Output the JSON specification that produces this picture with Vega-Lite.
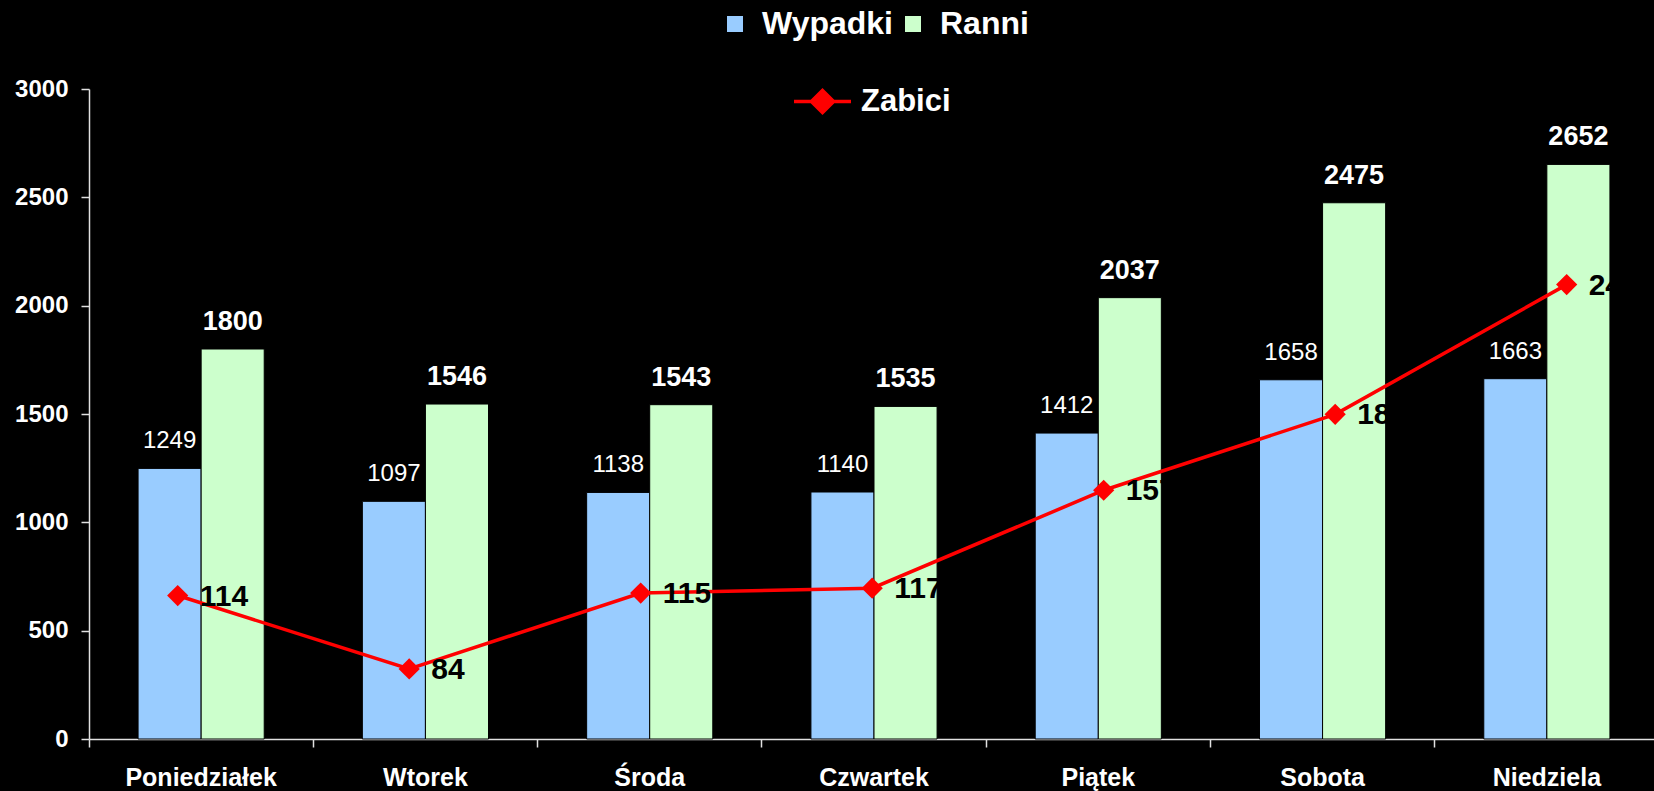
{
  "$schema": "https://vega.github.io/schema/vega-lite/v6.json",
  "background": "black",
  "autosize": {"type": "none"},
  "padding": {"left": 89, "top": 89, "right": -5, "bottom": 52},
  "width": 1570,
  "height": 650,
  "datasets": {
    "bars": [
      {"day": "Poniedziałek", "series": "Wypadki", "value": 1249},
      {"day": "Poniedziałek", "series": "Ranni", "value": 1800},
      {"day": "Wtorek", "series": "Wypadki", "value": 1097},
      {"day": "Wtorek", "series": "Ranni", "value": 1546},
      {"day": "Środa", "series": "Wypadki", "value": 1138},
      {"day": "Środa", "series": "Ranni", "value": 1543},
      {"day": "Czwartek", "series": "Wypadki", "value": 1140},
      {"day": "Czwartek", "series": "Ranni", "value": 1535},
      {"day": "Piątek", "series": "Wypadki", "value": 1412},
      {"day": "Piątek", "series": "Ranni", "value": 2037},
      {"day": "Sobota", "series": "Wypadki", "value": 1658},
      {"day": "Sobota", "series": "Ranni", "value": 2475},
      {"day": "Niedziela", "series": "Wypadki", "value": 1663},
      {"day": "Niedziela", "series": "Ranni", "value": 2652}
    ],
    "killed": [
      {"day": "Poniedziałek", "series": "Zabici", "value": 114},
      {"day": "Wtorek", "series": "Zabici", "value": 84},
      {"day": "Środa", "series": "Zabici", "value": 115},
      {"day": "Czwartek", "series": "Zabici", "value": 117},
      {"day": "Piątek", "series": "Zabici", "value": 157},
      {"day": "Sobota", "series": "Zabici", "value": 188},
      {"day": "Niedziela", "series": "Zabici", "value": 241}
    ]
  },
  "config": {
    "view": {"stroke": null},
    "font": "Liberation Sans",
    "legend": {
      "labelFont": "Liberation Sans",
      "labelFontSize": 32,
      "labelFontWeight": "bold",
      "labelColor": "white",
      "padding": 0,
      "titlePadding": 0
    }
  },
  "layer": [
    {
      "data": {"name": "bars"},
      "encoding": {
        "x": {
          "field": "day",
          "type": "nominal",
          "sort": ["Poniedziałek", "Wtorek", "Środa", "Czwartek", "Piątek", "Sobota", "Niedziela"],
          "scale": {"paddingInner": 0, "paddingOuter": 0},
          "axis": {
            "title": null,
            "labelAngle": 0,
            "labelFont": "Liberation Sans",
            "labelFontSize": 25,
            "labelFontWeight": "bold",
            "labelColor": "white",
            "labelBaseline": "alphabetic",
            "labelPadding": 38,
            "tickSize": 8,
            "tickColor": "#e0e0e0",
            "tickWidth": 1.5,
            "bandPosition": 0,
            "domainColor": "#e0e0e0",
            "domainWidth": 1.5,
            "grid": false
          }
        },
        "xOffset": {
          "field": "series",
          "type": "nominal",
          "scale": {"domain": ["Wypadki", "Ranni"], "paddingOuter": 0.778, "paddingInner": 0}
        },
        "y": {
          "field": "value",
          "type": "quantitative",
          "scale": {"domain": [0, 3000], "nice": false},
          "axis": {
            "title": null,
            "values": [0, 500, 1000, 1500, 2000, 2500, 3000],
            "format": "d",
            "labelFont": "Liberation Sans",
            "labelFontSize": 24,
            "labelFontWeight": "bold",
            "labelColor": "white",
            "labelPadding": 13,
            "tickSize": 8,
            "tickColor": "#e0e0e0",
            "tickWidth": 1.5,
            "domainColor": "#e0e0e0",
            "domainWidth": 1.5,
            "grid": false
          }
        }
      },
      "layer": [
        {
          "mark": {"type": "bar", "stroke": "black", "strokeWidth": 1},
          "encoding": {
            "color": {
              "field": "series",
              "type": "nominal",
              "scale": {"domain": ["Wypadki", "Ranni"], "range": ["#99ccff", "#ccffcc"]},
              "legend": {
                "title": null,
                "orient": "none",
                "direction": "horizontal",
                "legendX": 630,
                "legendY": -81,
                "symbolType": "square",
                "symbolSize": 256,
                "symbolStrokeWidth": 0,
                "symbolOpacity": 1,
                "labelOffset": 11,
                "columnPadding": 4
              }
            }
          }
        },
        {
          "transform": [{"filter": "datum.series === 'Wypadki'"}],
          "mark": {"type": "text", "color": "white", "font": "Liberation Sans", "fontSize": 24, "baseline": "alphabetic", "dy": -20},
          "encoding": {"text": {"field": "value", "type": "quantitative", "format": "d"}}
        },
        {
          "transform": [{"filter": "datum.series === 'Ranni'"}],
          "mark": {"type": "text", "color": "white", "font": "Liberation Sans", "fontSize": 27, "fontWeight": "bold", "baseline": "alphabetic", "dy": -19},
          "encoding": {"text": {"field": "value", "type": "quantitative", "format": "d"}}
        }
      ]
    },
    {
      "data": {"name": "killed"},
      "encoding": {
        "x": {
          "field": "day",
          "type": "nominal",
          "sort": ["Poniedziałek", "Wtorek", "Środa", "Czwartek", "Piątek", "Sobota", "Niedziela"],
          "scale": {"type": "point", "padding": 0.391, "align": 0.49},
          "axis": null
        },
        "y": {
          "field": "value",
          "type": "quantitative",
          "scale": {"domain": [55.4, 320.9], "nice": false, "zero": false},
          "axis": null
        }
      },
      "layer": [
        {
          "mark": {"type": "line", "strokeWidth": 3.5},
          "encoding": {
            "stroke": {
              "field": "series",
              "type": "nominal",
              "scale": {"domain": ["Zabici"], "range": ["#ff0000"]},
              "legend": {
                "title": null,
                "orient": "none",
                "legendX": 703,
                "legendY": -18,
                "labelFontSize": 31,
                "symbolType": "M-1,0L1,0M0,-0.39L0.39,0L0,0.39L-0.39,0Z",
                "symbolSize": 3249,
                "symbolStrokeWidth": 3.5,
                "symbolFillColor": "#ff0000",
                "labelOffset": 8,
                "encode": {"symbols": {"update": {"fill": {"value": "#ff0000"}, "stroke": {"value": "#ff0000"}, "strokeWidth": {"value": 3.5}}}}
              }
            }
          }
        },
        {
          "mark": {"type": "point", "shape": "diamond", "filled": true, "color": "#ff0000", "size": 450, "opacity": 1}
        },
        {
          "mark": {"type": "text", "color": "black", "font": "Liberation Sans", "fontSize": 30, "fontWeight": "bold", "align": "left", "baseline": "middle", "dx": 22, "dy": 1},
          "encoding": {"text": {"field": "value", "type": "quantitative", "format": "d"}}
        }
      ]
    }
  ],
  "resolve": {"scale": {"x": "independent", "y": "independent"}}
}
